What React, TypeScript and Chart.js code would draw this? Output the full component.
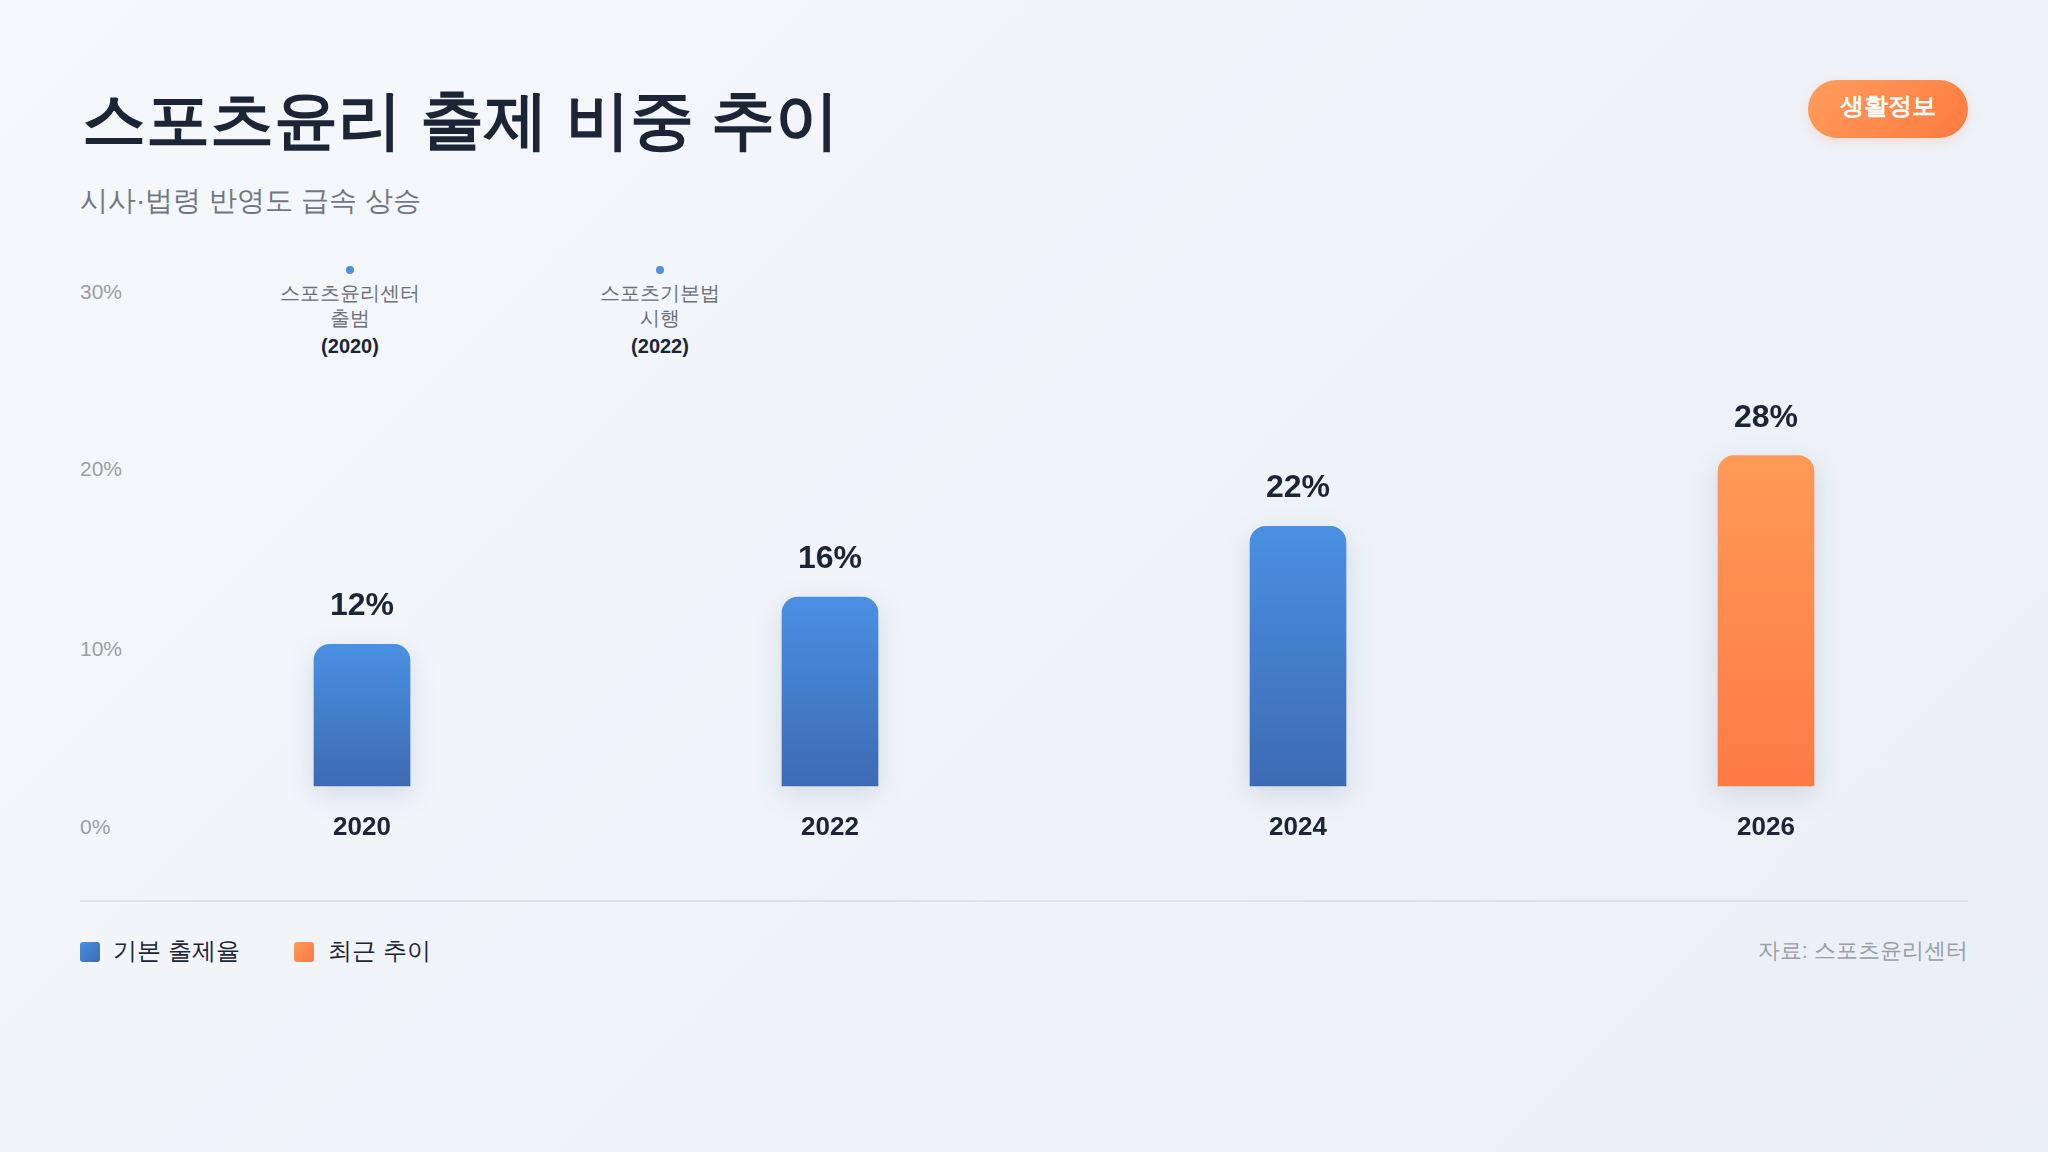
import React, { useEffect, useRef } from "react";
import { Chart, registerables } from "chart.js";

Chart.register(...registerables);

// ---- data ----
const years = ["2020", "2022", "2024", "2026"];
const baseRate = [12, 16, 22, null];
const recentTrend = [null, null, null, 28];
const yTickLabels = ["30%", "20%", "10%", "0%"];
const legendLabels = ["기본 출제율", "최근 추이"];
const milestoneLines = [["스포츠윤리센터", "출범"], ["스포츠기본법", "시행"]];
const milestoneYears = ["(2020)", "(2022)"];
const titleText = "스포츠윤리 출제 비중 추이";
const subtitleText = "시사·법령 반영도 급속 상승";
const badgeText = "생활정보";
const sourceText = "자료: 스포츠윤리센터";

// ---- styles ----
const FONT = '"Liberation Sans", Arial, Helvetica, sans-serif';
const DARK = "#1c2536";
const BLUE = ["#4a90e2", "#3d6bb3"];
const ORANGE = ["#ff9a56", "#ff7a45"];

function barFill(colors: string[]) {
  return (c: any) => {
    const chart = c.chart;
    const raw = c.raw;
    if (!chart.chartArea || raw == null) return colors[0];
    const y = chart.scales.y;
    const top = y.getPixelForValue(raw);
    const bottom = y.getPixelForValue(0);
    const g = chart.ctx.createLinearGradient(0, top, 0, bottom);
    g.addColorStop(0, colors[0]);
    g.addColorStop(1, colors[1]);
    return g;
  };
}

const shadowPlugin = {
  id: "barShadow",
  beforeDatasetsDraw(chart: any) {
    const ctx = chart.ctx;
    ctx.save();
    ctx.shadowColor = "rgba(30, 45, 80, 0.13)";
    ctx.shadowBlur = 26;
    ctx.shadowOffsetY = 8;
  },
  afterDatasetsDraw(chart: any) {
    chart.ctx.restore();
  },
};

const valueLabelPlugin = {
  id: "valueLabels",
  afterDatasetsDraw(chart: any) {
    const ctx = chart.ctx;
    ctx.save();
    ctx.font = `bold 32px ${FONT}`;
    ctx.fillStyle = DARK;
    ctx.textAlign = "center";
    ctx.textBaseline = "alphabetic";
    chart.data.datasets.forEach((ds: any, di: number) => {
      const meta = chart.getDatasetMeta(di);
      meta.data.forEach((el: any, i: number) => {
        const v = ds.data[i];
        if (v == null) return;
        ctx.fillText(`${v}%`, el.x, el.y - 29);
      });
    });
    ctx.restore();
  },
};

function BarChart() {
  const ref = useRef<HTMLCanvasElement | null>(null);
  useEffect(() => {
    if (!ref.current) return;
    const chart = new Chart(ref.current, {
      type: "bar",
      data: {
        labels: years,
        datasets: [
          {
            label: legendLabels[0],
            data: baseRate,
            backgroundColor: barFill(BLUE),
            borderRadius: 16,
            borderSkipped: "start",
            barThickness: 96,
            grouped: false,
            clip: false,
          } as any,
          {
            label: legendLabels[1],
            data: recentTrend,
            backgroundColor: barFill(ORANGE),
            borderRadius: 16,
            borderSkipped: "start",
            barThickness: 96,
            grouped: false,
            clip: false,
          } as any,
        ],
      },
      options: {
        animation: false,
        responsive: true,
        maintainAspectRatio: false,
        layout: { padding: { top: 52, left: 0, right: 0, bottom: 0 } },
        plugins: { legend: { display: false }, tooltip: { enabled: false } },
        scales: {
          x: {
            grid: { display: false, drawTicks: false },
            border: { display: false },
            ticks: {
              color: DARK,
              padding: 26,
              font: { family: FONT, size: 26, weight: "bold" },
            },
            afterFit(s: any) {
              s.height = 60;
            },
          },
          y: { display: false, min: 0, max: 30 },
        },
      },
      plugins: [shadowPlugin, valueLabelPlugin],
    });
    return () => chart.destroy();
  }, []);
  return <canvas ref={ref} />;
}

export default function App() {
  const abs = (s: React.CSSProperties): React.CSSProperties => ({
    position: "absolute",
    margin: 0,
    lineHeight: 1,
    whiteSpace: "nowrap",
    ...s,
  });
  const tickTops = [281, 458, 638, 816];
  const milestoneX = [350, 660];
  const milestoneTops = [283, 308];
  return (
    <div
      style={{
        position: "fixed",
        left: 0,
        top: 0,
        width: 2048,
        height: 1152,
        overflow: "hidden",
        fontFamily: FONT,
        background: "linear-gradient(135deg, #f6f8fb 0%, #e9eff7 100%)",
      }}
    >
      <div style={abs({ left: 82, top: 88, fontSize: 64, fontWeight: 700, color: DARK })}>{titleText}</div>
      <div style={abs({ left: 80, top: 187, fontSize: 28, color: "#707784" })}>{subtitleText}</div>

      <div
        style={abs({
          left: 1808,
          top: 80,
          width: 160,
          height: 58,
          borderRadius: 29,
          background: "linear-gradient(135deg, #ff9d5c 0%, #ff7a40 100%)",
          boxShadow: "0 4px 12px rgba(255,122,64,0.18)",
        })}
      />
      <div
        style={abs({
          left: 1808,
          width: 160,
          top: 94,
          textAlign: "center",
          color: "#fff",
          fontWeight: 700,
          fontSize: 24,
        })}
      >
        {badgeText}
      </div>

      {yTickLabels.map((t, i) => (
        <div key={t} style={abs({ left: 80, top: tickTops[i], fontSize: 21, color: "#9b9ea3" })}>
          {t}
        </div>
      ))}

      {milestoneLines.map((lines, i) => (
        <React.Fragment key={i}>
          <div
            style={abs({
              left: milestoneX[i] - 4,
              top: 266,
              width: 8,
              height: 8,
              borderRadius: 4,
              background: "#4a90e2",
            })}
          />
          {lines.map((l, j) => (
            <div
              key={l}
              style={abs({
                left: milestoneX[i] - 150,
                width: 300,
                top: milestoneTops[j],
                textAlign: "center",
                fontSize: 20,
                color: "#6b6f76",
              })}
            >
              {l}
            </div>
          ))}
          <div
            style={abs({
              left: milestoneX[i] - 150,
              width: 300,
              top: 336,
              textAlign: "center",
              fontSize: 20,
              fontWeight: 700,
              color: DARK,
            })}
          >
            {milestoneYears[i]}
          </div>
        </React.Fragment>
      ))}

      <div style={abs({ left: 128, top: 380, width: 1872, height: 466 })}>
        <BarChart />
      </div>

      <div style={abs({ left: 80, top: 900, width: 1888, height: 2, background: "#dde1e7" })} />

      {legendLabels.map((l, i) => {
        const col = i === 0 ? BLUE : ORANGE;
        return (
          <React.Fragment key={l}>
            <div
              style={abs({
                left: i === 0 ? 80 : 294,
                top: 942,
                width: 20,
                height: 20,
                borderRadius: 3,
                background: `linear-gradient(135deg, ${col[0]}, ${col[1]})`,
              })}
            />
            <div style={abs({ left: i === 0 ? 113 : 328, top: 939, fontSize: 24, color: DARK })}>{l}</div>
          </React.Fragment>
        );
      })}

      <div style={abs({ right: 80, top: 940, fontSize: 22, color: "#9b9ea3" })}>{sourceText}</div>
    </div>
  );
}
